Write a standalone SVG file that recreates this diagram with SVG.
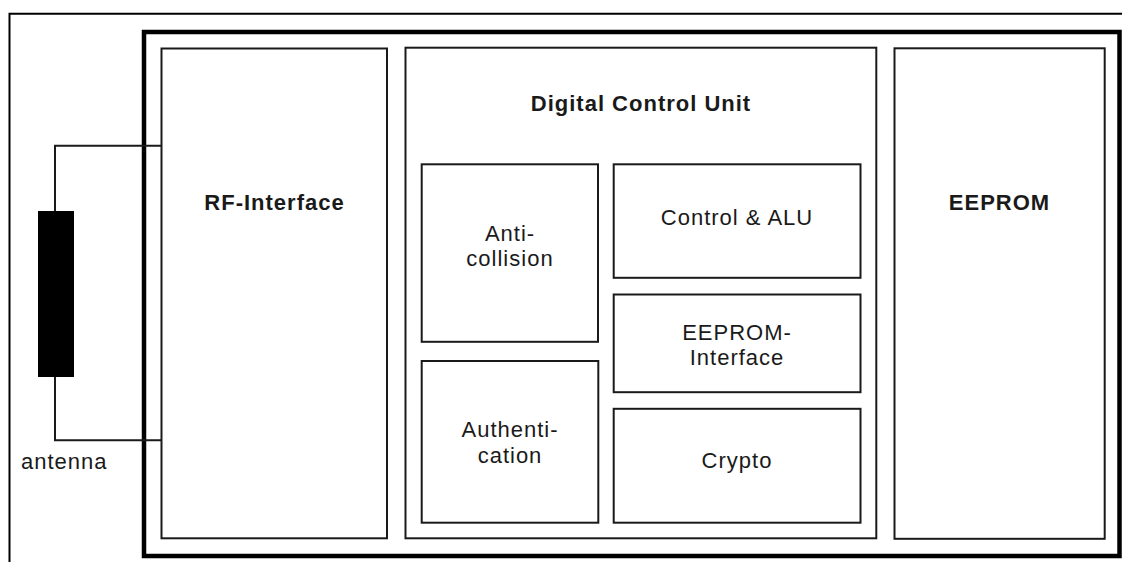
<svg xmlns="http://www.w3.org/2000/svg" width="1122" height="562" viewBox="0 0 1122 562">
<style>
.box{fill:#fff;stroke:#1a1a1a;stroke-width:2}
.frame{fill:none;stroke:#000;stroke-width:4.5;stroke-linejoin:miter}
.wire{fill:none;stroke:#1a1a1a;stroke-width:2}
text{font-family:"Liberation Sans",Arial,sans-serif;font-size:22px;fill:#1a1a1a;text-anchor:middle;letter-spacing:1px}
.b{font-weight:bold}
</style>
<rect width="1122" height="562" fill="#fff"/>
<path id="outer" d="M9.5,562 V13.7 H1122" fill="none" stroke="#000" stroke-width="2"/>
<rect id="chip" class="frame" x="144" y="32" width="975.5" height="524"/>
<g id="connectors">
<path class="wire" d="M161.5,145.7 H55 V211 M55,377 V440.2 H161.5"/>
</g>
<g id="antenna">
<rect x="38" y="211" width="36" height="166" fill="#000"/>
<text x="21" y="469" style="text-anchor:start">antenna</text>
</g>
<g id="rf-interface">
<rect class="box" x="161.5" y="48.5" width="225.5" height="489.8"/>
<text class="b" x="274.5" y="210">RF-Interface</text>
</g>
<g id="digital-control-unit">
<rect class="box" x="405.5" y="47.7" width="470.8" height="490.6"/>
<text class="b" x="641" y="111">Digital Control Unit</text>
</g>
<g id="anti-collision">
<rect class="box" x="421.7" y="164.3" width="176.3" height="177.5"/>
<text x="510" y="241">Anti-</text>
<text x="510" y="266">collision</text>
</g>
<g id="authentication">
<rect class="box" x="421.7" y="361" width="176.6" height="161.7"/>
<text x="510" y="437">Authenti-</text>
<text x="510" y="463">cation</text>
</g>
<g id="control-alu">
<rect class="box" x="613.7" y="164.3" width="246.8" height="113.5"/>
<text x="737" y="225">Control &amp; ALU</text>
</g>
<g id="eeprom-interface">
<rect class="box" x="613.7" y="294.5" width="246.8" height="97.7"/>
<text x="737" y="340">EEPROM-</text>
<text x="737" y="365">Interface</text>
</g>
<g id="crypto">
<rect class="box" x="613.7" y="408.8" width="246.8" height="113.9"/>
<text x="737" y="468">Crypto</text>
</g>
<g id="eeprom">
<rect class="box" x="894.5" y="48.3" width="210.2" height="490.5"/>
<text class="b" x="999.5" y="210">EEPROM</text>
</g>
</svg>
